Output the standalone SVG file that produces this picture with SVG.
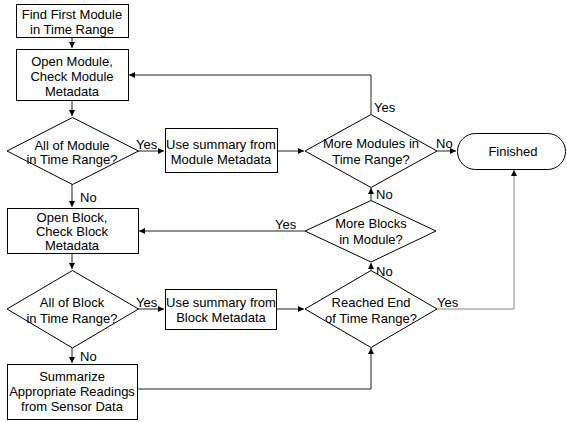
<svg xmlns="http://www.w3.org/2000/svg" width="567" height="422" viewBox="0 0 567 422">
<defs>
<marker id="ah" markerWidth="7" markerHeight="6" refX="6" refY="3" orient="auto" markerUnits="userSpaceOnUse">
<path d="M0,0 L6,3 L0,6 Z" fill="#000"/>
</marker>
<style>
.n{fill:#fff;stroke:#000;stroke-width:1}
.t{font-family:"Liberation Sans",Arial,sans-serif;font-size:13px;fill:#000;text-anchor:middle}
.l{font-family:"Liberation Sans",Arial,sans-serif;font-size:13px;fill:#000}
.c{fill:none;stroke:#222;stroke-width:1}
.g{fill:none;stroke:#888;stroke-width:1}
</style>
</defs>
<rect width="567" height="422" fill="#fff"/>
<g id="connectors">
<path class="c" d="M72,37 V48" marker-end="url(#ah)"/>
<path class="c" d="M72,100 V116" marker-end="url(#ah)"/>
<path class="c" d="M138,151 H164" marker-end="url(#ah)"/>
<path class="c" d="M277,151 H304" marker-end="url(#ah)"/>
<path class="c" d="M371,114 V75 H129" marker-end="url(#ah)"/>
<path class="c" d="M437,151 H456" marker-end="url(#ah)"/>
<path class="c" d="M72,184 V207" marker-end="url(#ah)"/>
<path class="c" d="M371,200 V188" marker-end="url(#ah)"/>
<path class="c" d="M305,231 H139" marker-end="url(#ah)"/>
<path class="c" d="M72,253 V269" marker-end="url(#ah)"/>
<path class="c" d="M138,309 H164" marker-end="url(#ah)"/>
<path class="c" d="M277,309 H304" marker-end="url(#ah)"/>
<path class="c" d="M371,270 V263" marker-end="url(#ah)"/>
<path class="c" d="M72,348 V363" marker-end="url(#ah)"/>
<path class="c" d="M138,389 H371 V348" marker-end="url(#ah)"/>
<path class="g" d="M437,309 H514 V170" marker-end="url(#ah)"/>
<text class="l" x="136" y="149">Yes</text>
<text class="l" x="80" y="202">No</text>
<text class="l" x="374" y="112">Yes</text>
<text class="l" x="436" y="148">No</text>
<text class="l" x="376" y="199">No</text>
<text class="l" x="275" y="229">Yes</text>
<text class="l" x="376" y="276">No</text>
<text class="l" x="437" y="307">Yes</text>
<text class="l" x="136" y="307">Yes</text>
<text class="l" x="80" y="361">No</text>
</g>
<g id="findFirst">
<rect class="n" x="16.5" y="4.5" width="112" height="33"/>
<text class="t" x="72" y="19">Find First Module</text>
<text class="t" x="72" y="34">in Time Range</text>
</g>
<g id="openModule">
<rect class="n" x="16.5" y="49.5" width="112" height="51"/>
<text class="t" x="72" y="66">Open Module,</text>
<text class="t" x="72" y="81">Check Module</text>
<text class="t" x="72" y="96">Metadata</text>
</g>
<g id="allModule">
<polygon class="n" points="72.5,117.5 138.5,151 72.5,184.5 7,151"/>
<text class="t" x="72" y="150">All of Module</text>
<text class="t" x="72" y="164">in Time Range?</text>
</g>
<g id="useModule">
<rect class="n" x="165.5" y="128.5" width="112" height="44"/>
<text class="t" x="221" y="149">Use summary from</text>
<text class="t" x="221" y="164">Module Metadata</text>
</g>
<g id="moreModules">
<polygon class="n" points="371,114.5 437,151 371,187.5 305,151"/>
<text class="t" x="371" y="148">More Modules in</text>
<text class="t" x="371" y="164">Time Range?</text>
</g>
<g id="finished">
<rect class="n" x="457.5" y="133.5" width="108" height="36" rx="18" ry="18"/>
<text class="t" x="513" y="156">Finished</text>
</g>
<g id="openBlock">
<rect class="n" x="7.5" y="208.5" width="131" height="45"/>
<text class="t" x="72" y="222">Open Block,</text>
<text class="t" x="72" y="236">Check Block</text>
<text class="t" x="72" y="250">Metadata</text>
</g>
<g id="moreBlocks">
<polygon class="n" points="371,200.5 436,231 371,262 305,231"/>
<text class="t" x="371" y="228">More Blocks</text>
<text class="t" x="371" y="244">in Module?</text>
</g>
<g id="allBlock">
<polygon class="n" points="72.5,270.5 138.5,309 72.5,348 7,309"/>
<text class="t" x="72" y="307">All of Block</text>
<text class="t" x="72" y="323">in Time Range?</text>
</g>
<g id="useBlock">
<rect class="n" x="165.5" y="289.5" width="111" height="40"/>
<text class="t" x="221" y="307">Use summary from</text>
<text class="t" x="221" y="322">Block Metadata</text>
</g>
<g id="reachedEnd">
<polygon class="n" points="371,270.5 437,309 371,347.5 305,309"/>
<text class="t" x="371" y="307">Reached End</text>
<text class="t" x="371" y="323">of Time Range?</text>
</g>
<g id="summarize">
<rect class="n" x="7.5" y="364.5" width="130" height="55"/>
<text class="t" x="72" y="381">Summarize</text>
<text class="t" x="72" y="396">Appropriate Readings</text>
<text class="t" x="72" y="411">from Sensor Data</text>
</g>
</svg>
